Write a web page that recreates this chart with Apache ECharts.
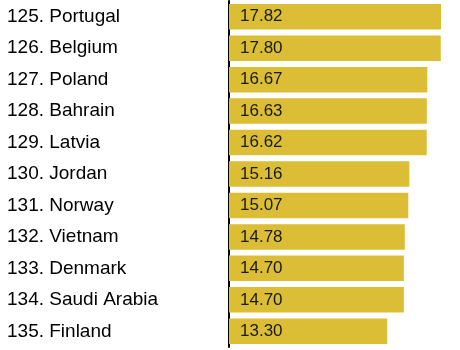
<!DOCTYPE html>
<html>
<head>
<meta charset="utf-8">
<script src="https://cdn.jsdelivr.net/npm/echarts@6/dist/echarts.min.js"></script>
<style>
  html, body { margin: 0; padding: 0; background: #fff; }
  #chart { width: 460px; height: 350px; }
</style>
</head>
<body>
<div id="chart"></div>
<script>
// Countries ranked 125–135
const categories = [
  '125. Portugal', '126. Belgium', '127. Poland', '128. Bahrain', '129. Latvia',
  '130. Jordan', '131. Norway', '132. Vietnam', '133. Denmark', '134. Saudi Arabia',
  '135. Finland'
];
const values = [17.82, 17.80, 16.67, 16.63, 16.62, 15.16, 15.07, 14.78, 14.70, 14.70, 13.30];

const chart = echarts.init(document.getElementById('chart'), null, { renderer: 'canvas' });

chart.setOption({
  animation: false,
  grid: { left: 229, right: 19, top: 1, bottom: 3 },
  xAxis: {
    type: 'value',
    min: 0,
    max: 17.82,
    show: false
  },
  yAxis: {
    type: 'category',
    data: categories,
    inverse: true,
    axisLine: { show: true, lineStyle: { color: '#000', width: 2 } },
    axisTick: { show: false },
    axisLabel: {
      align: 'left',
      margin: 222,
      fontFamily: 'Liberation Sans, Arial, sans-serif',
      fontSize: 19,
      color: '#000'
    }
  },
  series: [{
    type: 'bar',
    data: values,
    barWidth: '81%',
    itemStyle: { color: '#dbbd36' },
    label: {
      show: true,
      position: 'insideLeft',
      distance: 11,
      formatter: p => p.value.toFixed(2),
      fontFamily: 'Liberation Sans, Arial, sans-serif',
      fontSize: 17,
      color: '#1a1a1a'
    }
  }]
});
</script>
</body>
</html>
